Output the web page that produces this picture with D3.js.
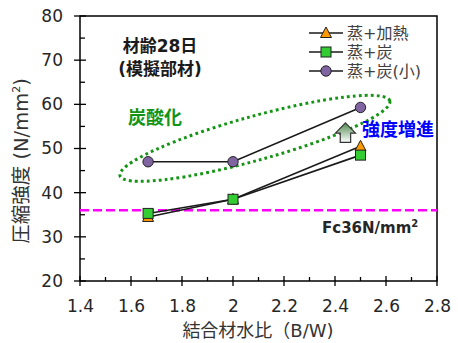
<!DOCTYPE html>
<html><head><meta charset="utf-8">
<script src="https://cdn.jsdelivr.net/npm/d3@7"></script>
<style>body{margin:0;background:#fff}svg{display:block}</style></head>
<body><svg id="c" width="458" height="343"></svg>
<script>
const xTicks=[1.4,1.6,1.8,2.0,2.2,2.4,2.6,2.8];
const xMinor=[1.5,1.7,1.9,2.1,2.3,2.5,2.7];
const yTicks=[20,30,40,50,60,70,80];
const yMinor=[25,35,45,55,65,75];
const bw=[1.667,2.0,2.5];
const heat=[34.5,38.5,50.5];
const carb=[35.3,38.5,48.5];
const carbSmall=[47.0,47.0,59.3];
const seriesNames=["蒸+加熱","蒸+炭","蒸+炭(小)"];
const fcValue=36;

const FONT='"DejaVu Sans","Noto Sans CJK JP",sans-serif';
const svg=d3.select("#c");
const L=80,R=437,T=16,B=281;
const x=d3.scaleLinear().domain([1.4,2.8]).range([L,R]);
const y=d3.scaleLinear().domain([20,80]).range([B,T]);

const defs=svg.append("defs");
const g1=defs.append("linearGradient").attr("id","ag").attr("x1",0).attr("y1",0).attr("x2",0).attr("y2",1);
g1.append("stop").attr("offset","0%").attr("stop-color","#4f8a4f");
g1.append("stop").attr("offset","100%").attr("stop-color","#ffffff");

svg.append("rect").attr("x",L).attr("y",T).attr("width",R-L).attr("height",B-T)
  .attr("fill","none").attr("stroke","#000").attr("stroke-width",1.5);

const tk=svg.append("g").attr("stroke","#000").attr("stroke-width",1.3);
xTicks.forEach(v=>tk.append("line").attr("x1",x(v)).attr("x2",x(v)).attr("y1",B-5).attr("y2",B+5));
xMinor.forEach(v=>tk.append("line").attr("x1",x(v)).attr("x2",x(v)).attr("y1",B-4).attr("y2",B));
yTicks.forEach(v=>tk.append("line").attr("y1",y(v)).attr("y2",y(v)).attr("x1",L-6).attr("x2",L+6));
yMinor.forEach(v=>tk.append("line").attr("y1",y(v)).attr("y2",y(v)).attr("x1",L).attr("x2",L+5));

const xa=svg.append("g").attr("transform",`translate(0,${B})`)
  .call(d3.axisBottom(x).tickValues(xTicks).tickSize(0).tickPadding(19).tickFormat(d=>d3.format("")(+d.toFixed(1))));
xa.select(".domain").remove();
xa.selectAll("text").attr("font-family",FONT).attr("font-size",17).attr("fill","#262626");
const ya=svg.append("g").attr("transform",`translate(${L},0)`)
  .call(d3.axisLeft(y).tickValues(yTicks).tickSize(0).tickPadding(17));
ya.select(".domain").remove();
ya.selectAll("text").attr("font-family",FONT).attr("font-size",17).attr("fill","#262626");

svg.append("text").attr("x",258).attr("y",337).attr("text-anchor","middle")
  .attr("font-family",FONT).attr("font-size",18).attr("fill","#333").text("結合材水比（B/W)");
const yt=svg.append("text").attr("transform","translate(28,161) rotate(-90)").attr("text-anchor","middle")
  .attr("font-family",FONT).attr("font-size",19.5).attr("fill","#333");
yt.append("tspan").text("圧縮強度 (N/mm");
yt.append("tspan").attr("font-size",11).attr("dy",-8).text("2");
yt.append("tspan").attr("dy",8).text(")");

svg.append("line").attr("x1",L).attr("x2",R).attr("y1",y(fcValue)).attr("y2",y(fcValue))
  .attr("stroke","#ff00ff").attr("stroke-width",2.5).attr("stroke-dasharray","9 4");
const fc=svg.append("text").attr("x",322).attr("y",233).attr("font-family",FONT).attr("font-weight","bold")
  .attr("font-size",15).attr("fill","#262626");
fc.append("tspan").text("Fc36N/mm");
fc.append("tspan").attr("font-size",10).attr("dy",-6).text("2");

const ecx=x(2.086), ecy=y(52.3);
svg.append("ellipse").attr("cx",ecx).attr("cy",ecy).attr("rx",140).attr("ry",22)
  .attr("transform",`rotate(-15.5,${ecx},${ecy})`)
  .attr("fill","none").attr("stroke","#149414").attr("stroke-width",3).attr("stroke-dasharray","2.8 3.2");

svg.append("text").attr("x",160).attr("y",52).attr("text-anchor","middle").attr("font-family",FONT)
  .attr("font-weight","bold").attr("font-size",17).attr("fill","#1a1a1a").text("材齢28日");
svg.append("text").attr("x",160).attr("y",75).attr("text-anchor","middle").attr("font-family",FONT)
  .attr("font-weight","bold").attr("font-size",17).attr("fill","#1a1a1a").text("(模擬部材)");
svg.append("text").attr("x",128).attr("y",124).attr("font-family",FONT)
  .attr("font-weight","bold").attr("font-size",18).attr("fill","#149414").text("炭酸化");
svg.append("text").attr("x",362).attr("y",136).attr("font-family",FONT)
  .attr("font-weight","bold").attr("font-size",18).attr("fill","#0000ff").text("強度増進");

const ax=x(2.441), ayT=y(55.8), ayB=y(51.4);
const hw=10, sw=5.2, hb=ayT+10.3;
svg.append("path").attr("d",`M${ax},${ayT} L${ax+hw},${hb} L${ax+sw},${hb} L${ax+sw},${ayB} L${ax-sw},${ayB} L${ax-sw},${hb} L${ax-hw},${hb} Z`)
  .attr("fill","url(#ag)").attr("stroke","#333").attr("stroke-width",1.2);

const series=[
  {name:seriesNames[0],vals:heat,shape:"tri",color:"#ff9900"},
  {name:seriesNames[1],vals:carb,shape:"sq",color:"#33cc33"},
  {name:seriesNames[2],vals:carbSmall,shape:"circ",color:"#8064a2"}
];
const line=d3.line().x(d=>x(d[0])).y(d=>y(d[1]));
function marker(g,shape,cx,cy,color){
  if(shape==="tri"){
    g.append("path").attr("d",`M${cx},${cy-6} L${cx+5.5},${cy+4.5} L${cx-5.5},${cy+4.5} Z`)
     .attr("fill",color).attr("stroke","#222").attr("stroke-width",1);
  } else if(shape==="sq"){
    g.append("rect").attr("x",cx-5).attr("y",cy-5).attr("width",10).attr("height",10)
     .attr("fill",color).attr("stroke","#222").attr("stroke-width",1);
  } else {
    g.append("circle").attr("cx",cx).attr("cy",cy).attr("r",5.2)
     .attr("fill",color).attr("stroke","#222").attr("stroke-width",1);
  }
}
series.forEach(s=>{
  const pts=bw.map((b,i)=>[b,s.vals[i]]);
  svg.append("path").attr("d",line(pts)).attr("fill","none").attr("stroke","#1a1a1a").attr("stroke-width",1.6);
});
series.forEach(s=>{
  const g=svg.append("g");
  bw.forEach((b,i)=>marker(g,s.shape,x(b),y(s.vals[i]),s.color));
});

series.forEach((s,i)=>{
  const ly=33+i*19;
  const g=svg.append("g");
  g.append("line").attr("x1",309).attr("x2",343).attr("y1",ly).attr("y2",ly).attr("stroke","#1a1a1a").attr("stroke-width",1.6);
  marker(g,s.shape,326,ly,s.color);
  g.append("text").attr("x",347).attr("y",ly).attr("dy","0.36em").attr("font-family",FONT)
   .attr("font-size",16).attr("fill","#404040").text(s.name);
});
</script></body></html>
